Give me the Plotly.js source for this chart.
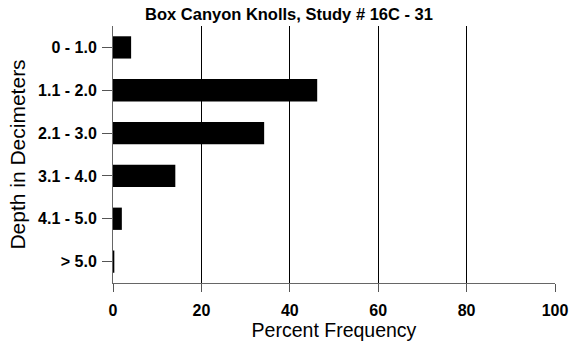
<!DOCTYPE html>
<html>
<head>
<meta charset="utf-8">
<script src="https://cdn.plot.ly/plotly-3.0.1.min.js"></script>
<style>html,body{margin:0;padding:0;background:#fff;}#chart{width:570px;height:348px;}</style>
</head>
<body>
<div id="chart"></div>
<script>
var categories = ["0 - 1.0", "1.1 - 2.0", "2.1 - 3.0", "3.1 - 4.0", "4.1 - 5.0", "> 5.0"];
var percentFrequency = [4.1, 46.2, 34.2, 14.1, 2.0, 0.3];
var xTickValues = [0, 20, 40, 60, 80, 100];

var trace = {
  type: "bar",
  orientation: "h",
  x: percentFrequency,
  y: categories,
  width: 0.52,
  marker: {color: "#000000", line: {color: "#000000", width: 0}},
  hoverinfo: "x+y"
};

var layout = {
  width: 570,
  height: 348,
  margin: {l: 113, r: 15, t: 26, b: 65, pad: 0},
  paper_bgcolor: "#ffffff",
  plot_bgcolor: "#ffffff",
  showlegend: false,
  font: {family: "Liberation Sans, Arial, sans-serif", color: "#000000"},
  title: {
    text: "<b>Box Canyon Knolls, Study # 16C - 31</b>",
    font: {size: 16.5, family: "Liberation Sans, Arial, sans-serif", color: "#000"},
    x: 0.507, xanchor: "center", xref: "container", y: 0.958, yanchor: "middle"
  },
  xaxis: {
    range: [0, 100],
    tickvals: xTickValues,
    ticktext: xTickValues.map(function(v){return "<b>" + v + "</b>";}),
    tickfont: {size: 16, color: "#000"},
    ticks: "outside", ticklen: 8, tickcolor: "#555", tickwidth: 1,
    ticklabelstandoff: 5,
    showgrid: true, gridcolor: "#000000", gridwidth: 1,
    zeroline: false,
    showline: true, linecolor: "#666", linewidth: 1,
    title: {text: "Percent Frequency", font: {size: 19.5, color: "#000"}, standoff: 4},
    fixedrange: true
  },
  yaxis: {
    type: "category",
    categoryorder: "array",
    categoryarray: categories,
    autorange: "reversed",
    tickvals: categories,
    ticktext: categories.map(function(c){return "<b>" + c.replace(">", "&gt;") + "</b>";}),
    tickfont: {size: 16, color: "#000"},
    ticks: "outside", ticklen: 10, tickcolor: "#555", tickwidth: 1,
    ticklabelstandoff: 2,
    showgrid: false, zeroline: false,
    showline: true, linecolor: "#666", linewidth: 1,
    title: {text: "Depth in Decimeters", font: {size: 21, color: "#000"}, standoff: 6},
    fixedrange: true
  }
};

Plotly.newPlot("chart", [trace], layout, {displayModeBar: false, staticPlot: true});
</script>
</body>
</html>
